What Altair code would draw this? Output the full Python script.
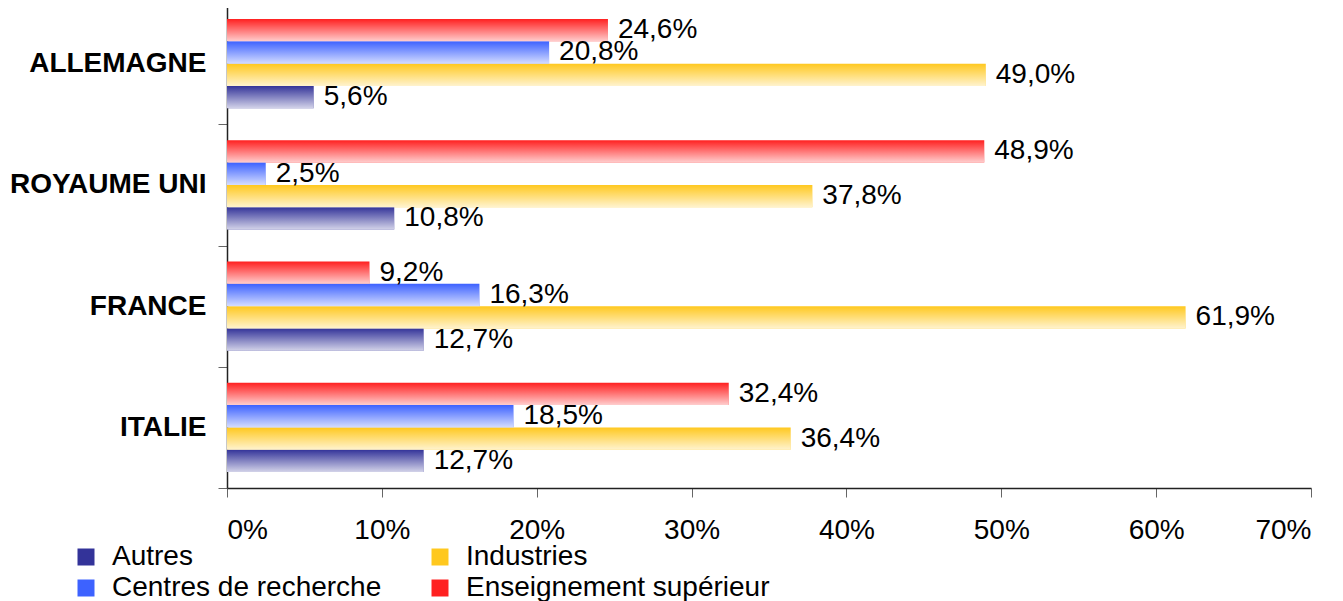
import altair as alt
import pandas as pd

# ---- Data ----
pays = ["ALLEMAGNE", "ROYAUME UNI", "FRANCE", "ITALIE"]
series_haut_bas = ["Enseignement supérieur", "Centres de recherche", "Industries", "Autres"]
ordre_legende = ["Autres", "Centres de recherche", "Industries", "Enseignement supérieur"]
couleurs = ["#333399", "#3D62FF", "#FFC81E", "#FF2020"]

enseignement = [24.6, 48.9, 9.2, 32.4]
centres = [20.8, 2.5, 16.3, 18.5]
industries = [49.0, 37.8, 61.9, 36.4]
autres = [5.6, 10.8, 12.7, 12.7]

x_ticks = [0, 10, 20, 30, 40, 50, 60, 70]

valeurs = {
    "Enseignement supérieur": enseignement,
    "Centres de recherche": centres,
    "Industries": industries,
    "Autres": autres,
}
rows = []
for s, vals in valeurs.items():
    for p, v in zip(pays, vals):
        rows.append({"pays": p, "serie": s, "valeur": v})
df = pd.DataFrame(rows)

FONT = "Liberation Sans"

x_enc = alt.X(
    "valeur:Q",
    scale=alt.Scale(domain=[0, 70], nice=False),
    axis=alt.Axis(
        values=x_ticks, labelExpr="datum.value + '%'", title=None, grid=False,
        tickSize=9, labelPadding=19, labelFontSize=28, labelFont=FONT,
        labelColor="#000", domainColor="#222", tickColor="#666", domainWidth=1.5,
    ),
)

base = alt.Chart(df).encode(
    y=alt.Y(
        "pays:N", sort=pays,
        scale=alt.Scale(domain=pays, paddingInner=0, paddingOuter=0),
        axis=alt.Axis(
            title=None, tickBand="extent", labelFont=FONT, labelFontWeight="bold",
            labelFontSize=28, labelPadding=12, tickSize=9, labelColor="#000",
            labelLimit=0, domainColor="#222", tickColor="#666", domainWidth=1.5,
        ),
    ),
    yOffset=alt.YOffset(
        "serie:N", sort=series_haut_bas,
        scale=alt.Scale(domain=series_haut_bas, paddingInner=0, paddingOuter=0.72),
    ),
)

bars = base.mark_bar().encode(
    x=x_enc,
    color=alt.Color(
        "serie:N",
        scale=alt.Scale(domain=ordre_legende, range=couleurs),
        legend=alt.Legend(
            title=None, orient="none", legendX=-155, legendY=540, columns=2,
            symbolType="square", symbolSize=289, symbolStrokeWidth=0,
            labelFontSize=28, labelFont=FONT, labelColor="#000", labelOffset=12,
            columnPadding=44, rowPadding=3, labelLimit=0,
        ),
    ),
)

overlay = base.mark_bar(
    color=alt.Gradient(
        gradient="linear", x1=0, x2=0, y1=0, y2=1,
        stops=[
            alt.GradientStop(offset=0, color="rgba(255,255,255,0)"),
            alt.GradientStop(offset=0.15, color="rgba(255,255,255,0.12)"),
            alt.GradientStop(offset=1, color="rgba(255,255,255,0.78)"),
        ],
    )
).encode(x=x_enc)

labels = base.transform_calculate(
    label="replace(format(datum.valeur, '.1f'), '.', ',') + '%'"
).mark_text(
    align="left", baseline="middle", dx=10, fontSize=28, font=FONT, color="#000"
).encode(x=x_enc, text="label:N")

chart = alt.layer(bars, overlay, labels).properties(
    width=1084, height=485,
    autosize=alt.AutoSizeParams(type="none"),
    padding={"left": 219, "top": -5, "right": 22, "bottom": 113},
).configure_view(stroke=None)

chart.save("out.html", embed_options={"renderer": "svg", "actions": False})
